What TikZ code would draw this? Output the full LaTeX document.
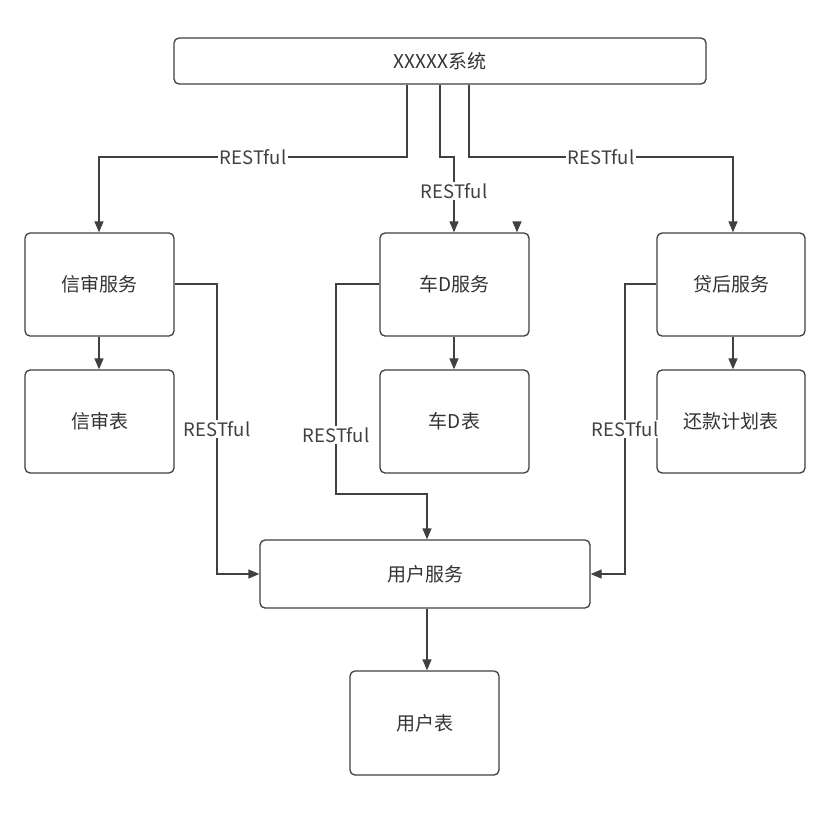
\documentclass[tikz,border=0pt]{standalone}
\usepackage{fontspec}
\setmainfont{Noto Sans CJK SC}
\usetikzlibrary{arrows.meta,calc}
\begin{document}
\begin{tikzpicture}[x=1pt,y=-1pt,
  box/.style={draw=black!75,line width=1.3pt,rounded corners=5pt,inner sep=0pt,font=\fontsize{19}{23}\selectfont,text=black!80},
  conn/.style={draw=black!75,line width=1.3pt,-{Triangle[length=11pt,width=9pt]}},
  lbl/.style={fill=white,inner sep=1.5pt,font=\fontsize{18.5}{22}\selectfont,text=black!75}]
\useasboundingbox (0,0) rectangle (840,828);
\fill[white] (0,0) rectangle (840,828);
% nodes
\node[box,minimum width=532pt,minimum height=46pt] (sys) at (440,61) {XXXXX系统};
\node[box,minimum width=149pt,minimum height=103pt] (xs) at (99.5,284.5) {信审服务};
\node[box,minimum width=149pt,minimum height=103pt] (xsb) at (99.5,421.5) {信审表};
\node[box,minimum width=149pt,minimum height=103pt] (cd) at (454.5,284.5) {车D服务};
\node[box,minimum width=149pt,minimum height=103pt] (cdb) at (454.5,421.5) {车D表};
\node[box,minimum width=148pt,minimum height=103pt] (dh) at (731,284.5) {贷后服务};
\node[box,minimum width=148pt,minimum height=103pt] (hk) at (731,421.5) {还款计划表};
\node[box,minimum width=330pt,minimum height=68pt] (yh) at (425,574) {用户服务};
\node[box,minimum width=149pt,minimum height=104pt] (yhb) at (424.5,723) {用户表};
% top connectors
\draw[conn] (sys.south -| 407,0) -- (407,157) -- node[lbl,pos=0.5] {RESTful} (99,157) -- (xs.north -| 99,0);
\draw[conn] (sys.south -| 440,0) -- (440,157) -- (454,157) -- node[lbl,pos=0.45] {RESTful} (cd.north -| 454,0);
\draw[conn] (sys.south -| 469,0) -- (469,157) -- node[lbl,pos=0.5] {RESTful} (733,157) -- (dh.north -| 733,0);
% stray arrowhead
\coordinate (st) at (517,224);
\draw[conn] ($(st)+(0,-0.5)$) -- (cd.north -| st);
% service to table
\draw[conn] (xs.south -| 99,0) -- (xsb.north -| 99,0);
\draw[conn] (cd.south -| 454,0) -- (cdb.north -| 454,0);
\draw[conn] (dh.south -| 733,0) -- (hk.north -| 733,0);
% to user service
\draw[conn] (xs.east |- 0,284) -- (217,284) -- node[lbl,pos=0.5] {RESTful} (217,574) -- (yh.west |- 0,574);
\draw[conn] (cd.west |- 0,284) -- (336,284) -- node[lbl,pos=0.72] {RESTful} (336,494) -- (427,494) -- (yh.north -| 427,0);
\draw[conn] (dh.west |- 0,284) -- (625,284) -- node[lbl,pos=0.5] {RESTful} (625,574) -- (yh.east |- 0,574);
\draw[conn] (yh.south -| 427,0) -- (yhb.north -| 427,0);
\end{tikzpicture}
\end{document}
